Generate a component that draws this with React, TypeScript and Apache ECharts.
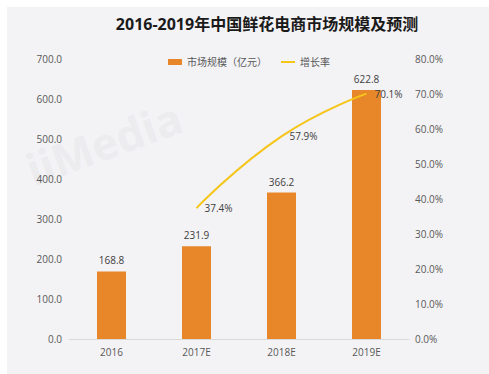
import React, { useEffect, useRef } from "react";
import * as echarts from "echarts";

const categories = ["2016", "2017E", "2018E", "2019E"];
const marketSize = [168.8, 231.9, 366.2, 622.8];
const growthRate = [null, 37.4, 57.9, 70.1];
const titleText = "2016-2019年中国鲜花电商市场规模及预测";
const barName = "市场规模（亿元）";
const lineName = "增长率";

export default function App() {
  const ref = useRef<HTMLDivElement>(null);
  useEffect(() => {
    const chart = echarts.init(ref.current!, null, { renderer: "svg" });
    const font = "'Open Sans', 'Noto Sans CJK SC', sans-serif";
    chart.setOption({
      animation: false,
      backgroundColor: "#ffffff",
      textStyle: { fontFamily: font },
      graphic: [
        { type: "rect", z: -10, shape: { x: 7, y: 7, width: 482, height: 367 }, style: { fill: "#f3f2f5" } },
        {
          type: "text", z: -5, x: 20, y: 150, rotation: 0.35,
          style: { text: "iiMedia", fill: "rgba(200,200,205,0.18)", font: "bold 44px 'Open Sans', sans-serif" },
        },
      ],
      title: {
        text: titleText,
        left: 262,
        textAlign: "center",
        top: 11,
        textStyle: { fontSize: 16, fontWeight: "bold", color: "#1a1a1a", fontFamily: font },
      },
      legend: {
        top: 52,
        left: 163,
        itemWidth: 14,
        itemHeight: 6,
        itemGap: 14,
        textStyle: { fontSize: 10, color: "#595959", fontFamily: font },
        data: [
          { name: barName, icon: "rect" },
          { name: lineName, icon: "path://M0,0 L14,0 L14,2 L0,2 Z" },
        ],
      },
      grid: { left: 69, right: 80, top: 59, bottom: 35 },
      xAxis: {
        type: "category",
        data: categories,
        axisTick: { show: false },
        axisLine: { lineStyle: { color: "#d9d9d9" } },
        axisLabel: { color: "#595959", fontSize: 10, margin: 8 },
      },
      yAxis: [
        {
          type: "value",
          min: 0,
          max: 700,
          interval: 100,
          splitLine: { show: false },
          axisLine: { show: false },
          axisTick: { show: false },
          axisLabel: { color: "#595959", fontSize: 10, margin: 7, formatter: (v: number) => v.toFixed(1) },
        },
        {
          type: "value",
          min: 0,
          max: 80,
          interval: 10,
          splitLine: { show: false },
          axisLine: { show: false },
          axisTick: { show: false },
          axisLabel: { color: "#595959", fontSize: 10, margin: 6, formatter: (v: number) => v.toFixed(1) + "%" },
        },
      ],
      series: [
        {
          name: barName,
          type: "bar",
          data: marketSize,
          barWidth: 29,
          itemStyle: { color: "#e8872a" },
          label: {
            show: true,
            position: "top",
            distance: 6,
            color: "#404040",
            fontSize: 10,
            formatter: (p: any) => Number(p.value).toFixed(1),
          },
        },
        {
          name: lineName,
          type: "line",
          yAxisIndex: 1,
          data: growthRate,
          smooth: true,
          showSymbol: true,
          symbol: "circle",
          symbolSize: 0.1,
          lineStyle: { color: "#f5c518", width: 2 },
          itemStyle: { color: "#f5c518" },
          label: {
            show: true,
            position: "right",
            distance: 8,
            color: "#404040",
            fontSize: 10,
            formatter: (p: any) => Number(p.value).toFixed(1) + "%",
          },
        },
      ],
    });
    return () => chart.dispose();
  }, []);
  return (
    <div style={{ position: "fixed", left: 0, top: 0, width: 489, height: 374 }}>
      <div ref={ref} style={{ width: 489, height: 374 }} />
    </div>
  );
}
